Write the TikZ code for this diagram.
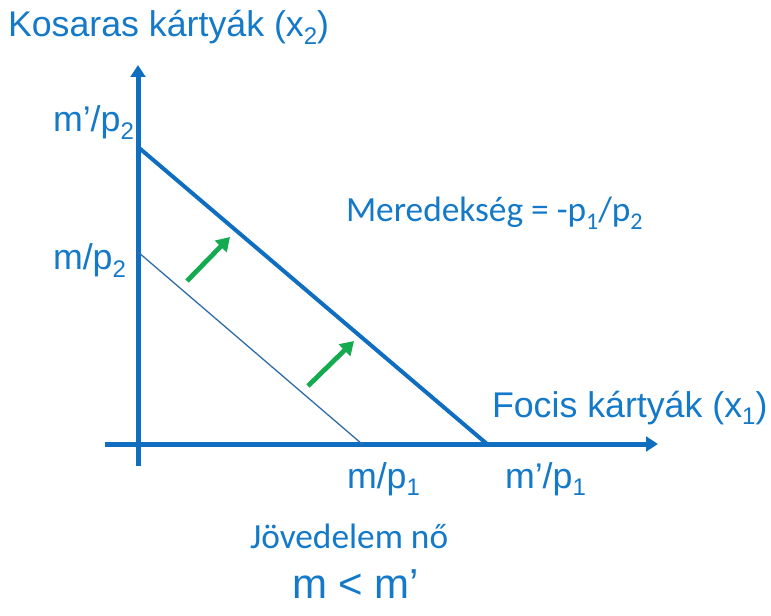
\documentclass[tikz,border=0pt]{standalone}
\usepackage{fontspec}
\setmainfont{Liberation Sans}
\newfontfamily\calib{Carlito}
\usetikzlibrary{arrows.meta}
\newcommand{\lowsub}[1]{\raisebox{-0.22em}{\fontsize{18}{20}\selectfont #1}}
\definecolor{txtblue}{RGB}{20,121,200}
\definecolor{lineblue}{RGB}{16,110,192}
\definecolor{thinblue}{RGB}{50,110,170}
\definecolor{arrgreen}{RGB}{20,170,80}
\tikzset{
  lbl/.style={anchor=base west, inner sep=0pt, outer sep=0pt, text=txtblue, font=\fontsize{26.8}{30}\selectfont},
  clbl/.style={lbl, font=\calib\fontsize{26.5}{30}\selectfont},
  axisline/.style={draw=lineblue, line width=3.75pt, -{Triangle[length=9pt,width=11pt]}},
  budget/.style={draw=lineblue, line width=3pt},
  budgetthin/.style={draw=thinblue, line width=1pt},
  shiftarrow/.style={draw=arrgreen, line width=3.6pt, -{Triangle[length=10pt,width=12pt]}}
}
\begin{document}
\begin{tikzpicture}[x=0.75pt,y=-0.75pt]
\useasboundingbox (0,0) rectangle (771,616);
% axes
\coordinate (ybot) at (138,466);
\coordinate (ytop) at (138,65);
\coordinate (xleft) at (105,444);
\coordinate (xright) at (658,444);
\draw[axisline] (ybot) -- (ytop);
\draw[axisline] (xleft) -- (xright);
% budget lines
\coordinate (outtop) at (138,147);
\coordinate (outbot) at (487,444);
\coordinate (intop) at (138,252);
\coordinate (inbot) at (362,444);
\draw[budget] (outtop) -- (outbot);
\draw[budgetthin] (intop) -- (inbot);
% shift arrows
\coordinate (a1s) at (187,281);
\coordinate (a1e) at (230,237);
\coordinate (a2s) at (308,386);
\coordinate (a2e) at (354,341);
\draw[shiftarrow] (a1s) -- (a1e);
\draw[shiftarrow] (a2s) -- (a2e);
% labels
\node[lbl] (ylabel) at (8,37) {Kosaras kártyák (x\lowsub{2})};
\node[lbl] (mp2b) at (53,132) {m’/p\lowsub{2}};
\node[lbl] (mp2a) at (53,270) {m/p\lowsub{2}};
\node[clbl] (slope) at (346,222) {Meredekség = -p\lowsub{1}/p\lowsub{2}};
\node[lbl] (xlabel) at (492,417) {Focis kártyák (x\lowsub{1})};
\node[lbl] (mp1a) at (347,488) {m/p\lowsub{1}};
\node[lbl] (mp1b) at (505,488) {m’/p\lowsub{1}};
\node[clbl] (income) at (250,548) {Jövedelem nő};
\node[lbl, font=\fontsize{31.5}{36}\selectfont] (ineq) at (292,598) {m < m’};
\end{tikzpicture}
\end{document}
